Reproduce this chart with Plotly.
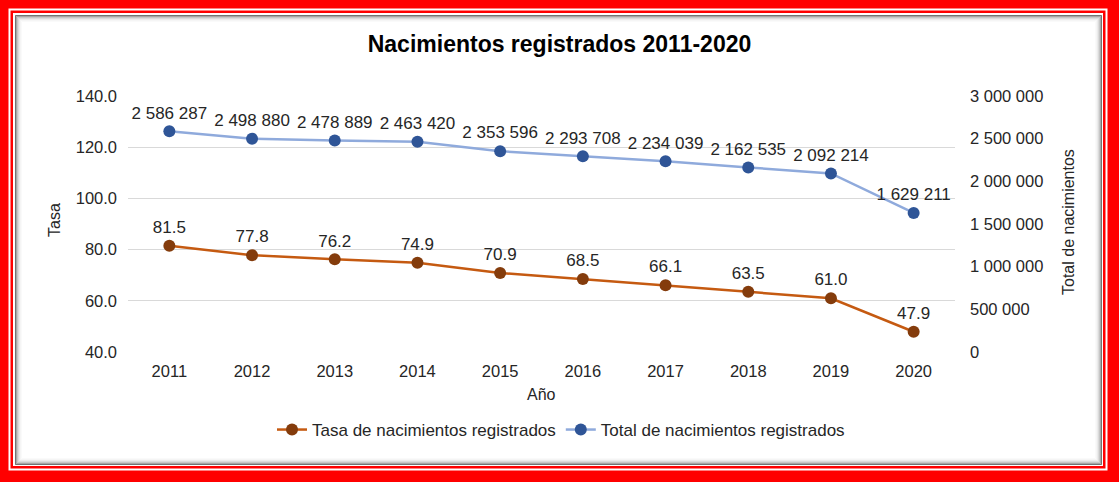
import plotly.graph_objects as go

years = ["2011", "2012", "2013", "2014", "2015", "2016", "2017", "2018", "2019", "2020"]
tasa = [81.5, 77.8, 76.2, 74.9, 70.9, 68.5, 66.1, 63.5, 61.0, 47.9]
total = [2586287, 2498880, 2478889, 2463420, 2353596, 2293708, 2234039, 2162535, 2092214, 1629211]
left_ticks = [40, 60, 80, 100, 120, 140]
right_ticks = [0, 500000, 1000000, 1500000, 2000000, 2500000, 3000000]

W, H = 1119, 482
ML, MR, MT, MB = 128, 164, 96, 130
PW, PH = W - ML - MR, H - MT - MB


def px(x):
    return (x - ML) / PW


def py(y):
    return (H - MB - y) / PH


FONT = "Liberation Sans, Arial, sans-serif"
TXT = "#262626"

fig = go.Figure()
fig.add_trace(go.Scatter(
    x=years, y=tasa, name="Tasa de nacimientos registrados",
    mode="lines+markers+text", yaxis="y",
    line=dict(color="#C55A11", width=2.5),
    marker=dict(color="#843C0C", size=12),
    text=[f"{v:.1f}" for v in tasa], textposition="top center",
    textfont=dict(size=17, color=TXT, family=FONT), cliponaxis=False,
))
fig.add_trace(go.Scatter(
    x=years, y=total, name="Total de nacimientos registrados",
    mode="lines+markers+text", yaxis="y2",
    line=dict(color="#8FAADC", width=2.5),
    marker=dict(color="#2F5597", size=12),
    texttemplate="%{y:,d}", textposition="top center",
    textfont=dict(size=17, color=TXT, family=FONT), cliponaxis=False,
))

shapes = []
# outer white line
shapes.append(dict(type="rect", xref="paper", yref="paper", layer="below",
                   x0=px(9.5), x1=px(1106.5), y0=py(9.5), y1=py(469.5),
                   line=dict(color="white", width=2), fillcolor="rgba(0,0,0,0)"))
# white panel
shapes.append(dict(type="rect", xref="paper", yref="paper", layer="below",
                   x0=px(13), x1=px(1103), y0=py(13), y1=py(466),
                   line=dict(width=0), fillcolor="white"))
# inset shadow
alphas = [0.55, 0.35, 0.22, 0.14, 0.08, 0.04, 0.02]
for i, a in enumerate(alphas):
    shapes.append(dict(type="rect", xref="paper", yref="paper", layer="below",
                       x0=px(15.5 + i), x1=px(1101.5 - i), y0=py(15.5 + i), y1=py(464.5 - i),
                       line=dict(color=f"rgba(0,0,0,{a})", width=1), fillcolor="rgba(0,0,0,0)"))

annotations = [
    dict(text="Tasa", xref="paper", yref="paper", x=px(54), y=py(220), textangle=-90,
         showarrow=False, font=dict(size=16, color=TXT, family=FONT), xanchor="center", yanchor="middle"),
    dict(text="Total de nacimientos", xref="paper", yref="paper", x=px(1068), y=py(222), textangle=-90,
         showarrow=False, font=dict(size=16, color=TXT, family=FONT), xanchor="center", yanchor="middle"),
    dict(text="Año", xref="paper", yref="paper", x=px(541), y=py(394),
         showarrow=False, font=dict(size=16, color=TXT, family=FONT), xanchor="center", yanchor="middle"),
]

fig.update_layout(
    width=W, height=H,
    margin=dict(l=ML, r=MR, t=MT, b=MB, autoexpand=False),
    paper_bgcolor="#FF0000", plot_bgcolor="rgba(0,0,0,0)",
    separators=". ",
    font=dict(family=FONT, color=TXT, size=16),
    title=dict(text="<b>Nacimientos registrados 2011-2020</b>", x=0.5, xanchor="center",
               y=1 - 44 / H, yanchor="middle", xref="container",
               font=dict(size=23, color="black", family=FONT)),
    xaxis=dict(type="category", range=[-0.5, 9.5], showgrid=False, showline=False, ticks="",
               tickfont=dict(size=16.5, color=TXT), ticklabelstandoff=7),
    yaxis=dict(range=[40, 140], tickvals=left_ticks, tickformat=".1f", showgrid=True,
               gridcolor="#D9D9D9", gridwidth=1, zeroline=False, showline=False, ticks="",
               tickfont=dict(size=16.5, color=TXT), ticklabelstandoff=10),
    yaxis2=dict(range=[0, 3000000], tickvals=right_ticks, tickformat=",d", overlaying="y",
                side="right", showgrid=False, zeroline=False, showline=False, ticks="",
                tickfont=dict(size=16.5, color=TXT), ticklabelstandoff=14),
    legend=dict(orientation="h", x=px(561), xanchor="center", y=py(430), yanchor="middle",
                font=dict(size=17, color=TXT), bgcolor="rgba(0,0,0,0)", itemwidth=30),
    showlegend=True,
    shapes=shapes,
    annotations=annotations,
)

fig.write_html("out.html", config={"displayModeBar": False},
               post_script="document.body.style.margin='0';document.body.style.padding='0';")
